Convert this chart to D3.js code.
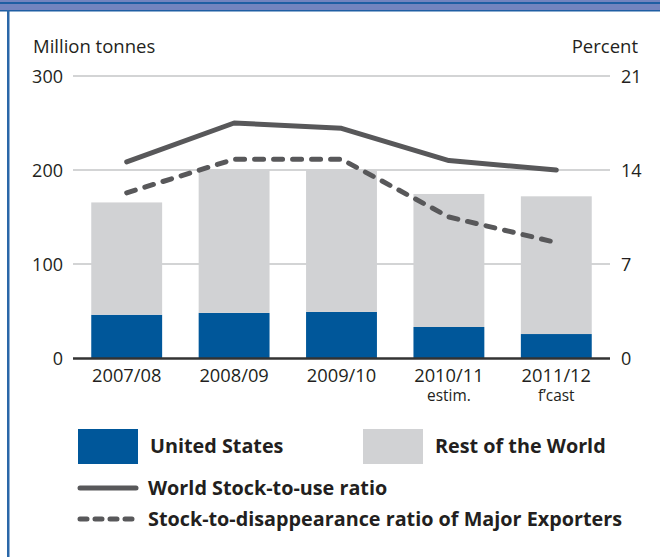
<!DOCTYPE html>
<html>
<head>
<meta charset="utf-8">
<script src="https://cdn.jsdelivr.net/npm/d3@7"></script>
<style>
  html, body { margin: 0; padding: 0; background: #fff; }
  svg { display: block; }
  text { font-family: "Open Sans", "Noto Sans", sans-serif; fill: #231f20; }
</style>
</head>
<body>
<svg id="chart" width="660" height="557"></svg>
<script>
// ---- Data ----
const categories = ["2007/08", "2008/09", "2009/10", "2010/11", "2011/12"];
const subLabels = ["", "", "", "estim.", "f\u2019cast"];
const unitedStates = [46, 48, 49, 33, 25.5];
const restOfWorld = [119.5, 152, 151, 141.5, 146.5];
const worldStockToUse = [14.6, 17.5, 17.1, 14.7, 14.0];
const majorExportersRatio = [12.3, 14.8, 14.8, 10.5, 8.6];
const leftTicks = [0, 100, 200, 300];
const rightTicks = [0, 7, 14, 21];
const seriesNames = ["United States", "Rest of the World", "World Stock-to-use ratio", "Stock-to-disappearance ratio of Major Exporters"];

const colors = { us: "#00579a", row: "#d1d2d4", line: "#58585a", grid: "#a7a9ac", axis: "#333333" };

const svg = d3.select("#chart");

// ---- Frame ----
svg.append("rect").attr("x", 0).attr("y", 0).attr("width", 660).attr("height", 11).attr("fill", "#7384bf");
svg.append("rect").attr("x", 0).attr("y", 2).attr("width", 660).attr("height", 2).attr("fill", "#1f5ea3");
svg.append("rect").attr("x", 0).attr("y", 10).attr("width", 660).attr("height", 1.5).attr("fill", "#1f5ea3");
svg.append("rect").attr("x", 7).attr("y", 10).attr("width", 2.5).attr("height", 547).attr("fill", "#2a67a8");

// ---- Scales ----
const pLeft = 73, pRight = 610, pTop = 76, pBottom = 358;
const x = d3.scaleBand().domain(categories).range([pLeft, pRight]).paddingInner(0.34).paddingOuter(0.17);
const yL = d3.scaleLinear().domain([0, 300]).range([pBottom, pTop]);
const yR = d3.scaleLinear().domain([0, 21]).range([pBottom, pTop]);

// ---- Gridlines ----
svg.append("g").selectAll("line").data(leftTicks.filter(d => d > 0)).join("line")
  .attr("x1", pLeft).attr("x2", pRight)
  .attr("y1", d => yL(d)).attr("y2", d => yL(d))
  .attr("stroke", colors.grid).attr("stroke-width", 1.2);

// ---- Bars ----
const stackData = categories.map((c, i) => ({ cat: c, us: unitedStates[i], row: restOfWorld[i] }));
const stack = d3.stack().keys(["us", "row"])(stackData);
svg.append("g").selectAll("g").data(stack).join("g")
  .attr("fill", d => d.key === "us" ? colors.us : colors.row)
  .selectAll("rect").data(d => d).join("rect")
  .attr("x", d => x(d.data.cat))
  .attr("width", x.bandwidth())
  .attr("y", d => yL(d[1]))
  .attr("height", d => yL(d[0]) - yL(d[1]));

// ---- Baseline ----
svg.append("line").attr("x1", pLeft).attr("x2", pRight).attr("y1", pBottom + 0.5).attr("y2", pBottom + 0.5)
  .attr("stroke", colors.axis).attr("stroke-width", 2.5);

// ---- Axes labels ----
const axL = svg.append("g").attr("transform", `translate(${pLeft - 10},0)`)
  .call(d3.axisLeft(yL).tickValues(leftTicks).tickSize(0).tickPadding(0));
axL.select(".domain").remove();
axL.selectAll("text").style("font-size", "18px").attr("fill", "#231f20")
  .style("font-family", "'Open Sans', sans-serif").attr("dy", "0.35em");

const axR = svg.append("g").attr("transform", `translate(${pRight + 11},0)`)
  .call(d3.axisRight(yR).tickValues(rightTicks).tickSize(0).tickPadding(0));
axR.select(".domain").remove();
axR.selectAll("text").style("font-size", "18px").attr("fill", "#231f20")
  .style("font-family", "'Open Sans', sans-serif").attr("dy", "0.35em");

svg.append("text").attr("x", 33).attr("y", 53).style("font-size", "18.5px").text("Million tonnes");
svg.append("text").attr("x", 638).attr("y", 53).attr("text-anchor", "end").style("font-size", "18.5px").text("Percent");

// ---- X axis labels ----
const xg = svg.append("g");
xg.selectAll("text.cat").data(categories).join("text").attr("class", "cat")
  .attr("x", d => x(d) + x.bandwidth() / 2).attr("y", 382)
  .attr("text-anchor", "middle").style("font-size", "18.3px").text(d => d);
xg.selectAll("text.sub").data(categories).join("text").attr("class", "sub")
  .attr("x", d => x(d) + x.bandwidth() / 2).attr("y", 401)
  .attr("text-anchor", "middle").style("font-size", "15.4px").text((d, i) => subLabels[i]);

// ---- Lines ----
const cx = c => x(c) + x.bandwidth() / 2;
const line = d3.line().x(d => cx(d.c)).y(d => yR(d.v));
svg.append("path")
  .datum(categories.map((c, i) => ({ c, v: worldStockToUse[i] })))
  .attr("d", line).attr("fill", "none").attr("stroke", colors.line)
  .attr("stroke-width", 5).attr("stroke-linecap", "round").attr("stroke-linejoin", "round");
svg.append("path")
  .datum(categories.map((c, i) => ({ c, v: majorExportersRatio[i] })))
  .attr("d", line).attr("fill", "none").attr("stroke", colors.line)
  .attr("stroke-width", 5).attr("stroke-linecap", "round").attr("stroke-linejoin", "round")
  .attr("stroke-dasharray", "9,10");

// ---- Legend ----
const lg = svg.append("g");
const lgFont = "19.8px";
lg.append("rect").attr("x", 78).attr("y", 429).attr("width", 60).attr("height", 35).attr("fill", colors.us);
lg.append("text").attr("x", 150).attr("y", 453).style("font-size", lgFont).style("font-weight", "bold").text(seriesNames[0]);
lg.append("rect").attr("x", 363).attr("y", 429).attr("width", 60).attr("height", 35).attr("fill", colors.row);
lg.append("text").attr("x", 435).attr("y", 453).style("font-size", lgFont).style("font-weight", "bold").text(seriesNames[1]);

lg.append("line").attr("x1", 80).attr("x2", 136).attr("y1", 488).attr("y2", 488)
  .attr("stroke", colors.line).attr("stroke-width", 5).attr("stroke-linecap", "round");
lg.append("text").attr("x", 148).attr("y", 495).style("font-size", lgFont).style("font-weight", "bold").text(seriesNames[2]);
lg.append("line").attr("x1", 80).attr("x2", 136).attr("y1", 519).attr("y2", 519)
  .attr("stroke", colors.line).attr("stroke-width", 5).attr("stroke-linecap", "round").attr("stroke-dasharray", "7,8");
lg.append("text").attr("x", 148).attr("y", 526).style("font-size", lgFont).style("font-weight", "bold").text(seriesNames[3]);
</script>
</body>
</html>
